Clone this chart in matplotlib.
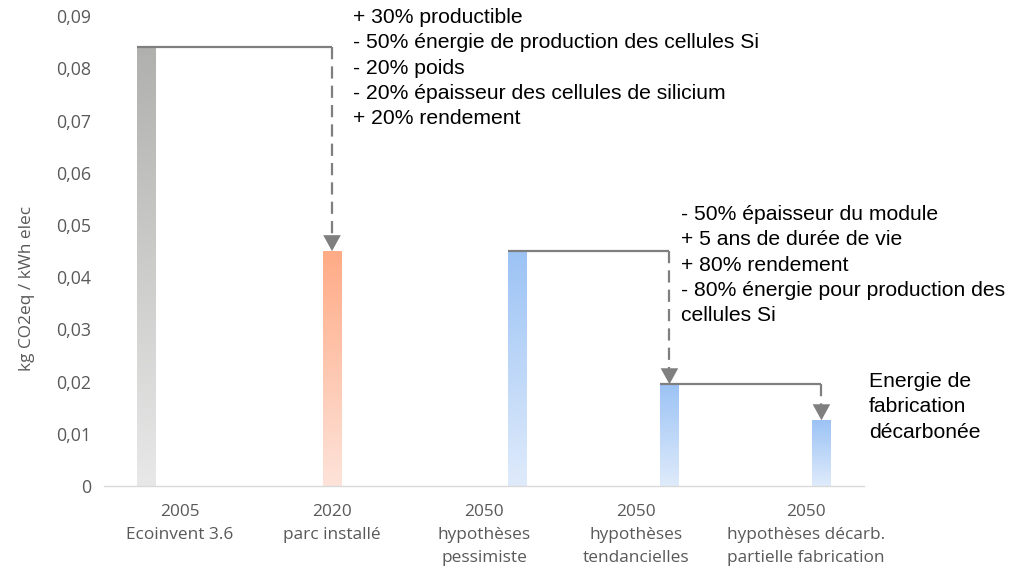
import numpy as np
import matplotlib.pyplot as plt
from matplotlib.colors import to_rgb
from matplotlib.ticker import FuncFormatter

# emissions per kWh for each scenario
categories = ["2005\nEcoinvent 3.6",
              "2020\nparc installé",
              "2050\nhypothèses\npessimiste",
              "2050\nhypothèses\ntendancielles",
              "2050\nhypothèses décarb.\npartielle fabrication"]
values = [0.0842, 0.0450, 0.0451, 0.0195, 0.0126]
series = [0, 1, 2, 2, 2]          # 0 = reference, 1 = today, 2 = 2050

# (from bar, to bar) for the step arrows
steps = [(0, 1), (2, 3), (3, 4)]
notes = ["+ 30% productible\n"
         "- 50% énergie de production des cellules Si\n"
         "- 20% poids\n"
         "- 20% épaisseur des cellules de silicium\n"
         "+ 20% rendement",
         "- 50% épaisseur du module\n"
         "+ 5 ans de durée de vie\n"
         "+ 80% rendement\n"
         "- 80% énergie pour production des\n"
         "cellules Si",
         "Energie de\nfabrication\ndécarbonée"]

W, H = 1026, 568
fig = plt.figure(figsize=(W / 100, H / 100), dpi=100)
ax = fig.add_axes([104 / W, 1 - 486 / H, 760 / W, (486 - 16.3) / H])

offsets = [-0.22, 0.0, 0.22]
grad = {0: ("#b0b0ae", "#e8e8e8"),
        1: ("#ffab86", "#fde3da"),
        2: ("#9cc3f5", "#dfebfb")}
bw = 0.125

x = np.arange(len(values)) + np.array([offsets[s] for s in series])
bars = ax.bar(x, values, width=bw, color="none", zorder=2)

ramp = np.linspace(0, 1, 200)[:, None]
for b, s in zip(bars, series):
    top, bot = np.array(to_rgb(grad[s][0])), np.array(to_rgb(grad[s][1]))
    img = bot + (top - bot) * ramp[:, :, None]
    x0, w, h = b.get_x(), b.get_width(), b.get_height()
    ax.imshow(img, extent=[x0, x0 + w, 0, h], origin="lower",
              aspect="auto", zorder=2, interpolation="bilinear")

ax.set_xlim(-0.5, 4.5)
ax.set_ylim(0, 0.09)

# step connectors: solid line from the source bar, dashed drop with arrow
gray = "#7f7f7f"
head = 0.0028
for a, b in steps:
    xa = x[a] - bw / 2
    xb = x[b]
    ax.plot([xa, xb], [values[a], values[a]], color=gray, lw=1.6,
            solid_capstyle="butt", zorder=3)
    ax.plot([xb, xb], [values[a], values[b] + head - 0.0002], color=gray,
            lw=1.6, dashes=(5.5, 3.2), zorder=3)
    ax.annotate("", xy=(xb, values[b]), xytext=(xb, values[b] + head),
                arrowprops=dict(arrowstyle="-|>,head_length=1.0,head_width=0.55",
                                color=gray, lw=0, shrinkA=0, shrinkB=0,
                                mutation_scale=11.5), zorder=4)

ax.yaxis.set_major_formatter(
    FuncFormatter(lambda v, p: "0" if v == 0 else f"{v:.2f}".replace(".", ",")))
ax.set_yticks(np.arange(0, 0.0901, 0.01))
tick_pos = [0, 1, 2, 3, 4.12]
ax.set_xticks(tick_pos)
ax.set_xticklabels(categories, linespacing=1.6)

for side in ["top", "right", "left"]:
    ax.spines[side].set_visible(False)
ax.spines["bottom"].set_color("#d9d9d9")
ax.spines["bottom"].set_linewidth(1.0)
ax.tick_params(length=0, colors="#595959", labelsize=12.4)
ax.tick_params(axis="y", pad=9, labelsize=12.8)
ax.tick_params(axis="x", pad=13)
for t in ax.get_xticklabels() + ax.get_yticklabels():
    t.set_family("Open Sans")

fig.text(27 / W, 1 - 288 / H, "kg CO2eq / kWh elec", rotation=90,
         ha="center", va="center", color="#595959", fontsize=12.4,
         family="Open Sans")

note_pos = [(353, 8), (681, 205), (869, 372)]
for (px, py), txt in zip(note_pos, notes):
    fig.text(px / W, 1 - py / H, txt, ha="left", va="top",
             fontsize=15.2, family="Liberation Sans", color="black",
             linespacing=1.42)

fig.savefig("out.png", dpi=100)
